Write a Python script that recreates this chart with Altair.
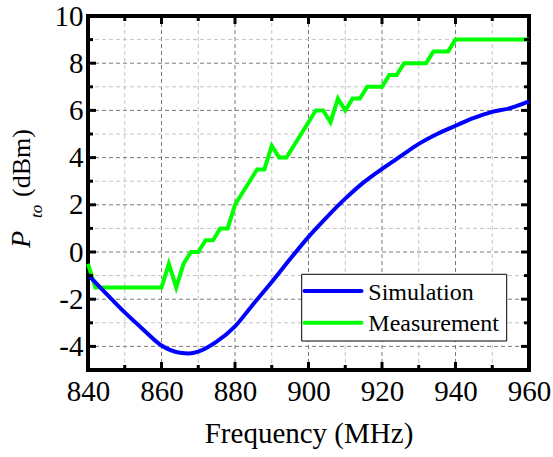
import altair as alt
import pandas as pd

# ---- data ----
sim_freq = [840, 845, 850, 855, 860, 865, 867.5, 870, 875, 880, 885, 890, 895,
            900, 905, 910, 915, 920, 925, 930, 935, 940, 945, 950, 955, 960]
sim_val = [-0.96, -1.77, -2.56, -3.28, -3.96, -4.27, -4.30, -4.22, -3.8, -3.15,
           -2.2, -1.27, -0.3, 0.64, 1.48, 2.26, 2.95, 3.52, 4.05, 4.58, 5.0,
           5.35, 5.68, 5.94, 6.1, 6.38]

meas_freq = [840, 842, 860, 862, 864, 866, 868, 870, 872, 874, 876, 878, 880,
             886, 888, 890, 892, 894, 902, 904, 906, 908, 910, 912, 914, 916,
             920, 922, 924, 926, 932, 934, 938, 940, 960]
meas_val = [-0.5, -1.5, -1.5, -0.5, -1.5, -0.5, 0, 0, 0.5, 0.5, 1, 1, 2,
            3.5, 3.5, 4.5, 4, 4, 6, 6, 5.5, 6.5, 6, 6.5, 6.5, 7,
            7, 7.5, 7.5, 8, 8, 8.5, 8.5, 9, 9]

series_names = ["Simulation", "Measurement"]
series_colors = ["#0000ff", "#00ff00"]

x_labels = [840, 860, 880, 900, 920, 940, 960]
y_labels = [-4, -2, 0, 2, 4, 6, 8, 10]
x_major_ticks = [860, 880, 900, 920, 940]
x_minor_ticks = [850, 870, 890, 910, 930, 950]
y_major_ticks = [-4, -2, 0, 2, 4, 6, 8]
y_minor_ticks = [-3, -1, 1, 3, 5, 7, 9]

x_title = "Frequency (MHz)"
y_title_parts = ["P", "to", "(dBm)"]

FONT = "Liberation Serif"
W, H = 441, 354
GRID_DARK = "#7a7a7a"
GRID_LIGHT = "#c4c4c4"

df = pd.concat([
    pd.DataFrame({"freq": sim_freq, "val": sim_val, "series": series_names[0]}),
    pd.DataFrame({"freq": meas_freq, "val": meas_val, "series": series_names[1]}),
])

xscale = alt.Scale(domain=[840, 960], nice=False, zero=False)
yscale = alt.Scale(domain=[-5, 10], nice=False, zero=False)

color = alt.Color(
    "series:N",
    scale=alt.Scale(domain=series_names, range=series_colors),
    legend=None,
)

xenc = alt.X(
    "freq:Q", scale=xscale,
    axis=alt.Axis(
        values=x_labels, title=x_title, ticks=False, domain=False, grid=False,
        labelFlush=False, labelOverlap=False,
        labelFont=FONT, labelFontSize=29, labelColor="black",
        titleFont=FONT, titleFontSize=29, titleFontWeight="normal", titleColor="black",
        labelPadding=7, titlePadding=13,
    ),
)
yenc = alt.Y(
    "val:Q", scale=yscale,
    axis=alt.Axis(
        values=y_labels, title=None, ticks=False, domain=False, grid=False,
        labelExpr="replace(datum.label, '\u2212', '-')",
        labelFlush=False, labelOverlap=False,
        labelFont=FONT, labelFontSize=29, labelColor="black",
        labelPadding=5,
    ),
)


# dashed grid (major darker, minor lighter)
def vgrid(vals, col):
    return alt.Chart(pd.DataFrame({"freq": vals})).mark_rule(
        color=col, strokeWidth=1, strokeDash=[4, 3]).encode(
        x=alt.X("freq:Q", scale=xscale), y=alt.value(0), y2=alt.value(H))


def hgrid(vals, col):
    return alt.Chart(pd.DataFrame({"val": vals})).mark_rule(
        color=col, strokeWidth=1, strokeDash=[4, 3]).encode(
        y=alt.Y("val:Q", scale=yscale), x=alt.value(0), x2=alt.value(W))


layers = [
    vgrid(x_minor_ticks, GRID_LIGHT), vgrid(x_major_ticks, GRID_DARK),
    hgrid(y_minor_ticks, GRID_LIGHT), hgrid(y_major_ticks, GRID_DARK),
]

meas = alt.Chart(df).transform_filter(
    alt.datum.series == series_names[1]
).mark_line(strokeWidth=4).encode(x=xenc, y=yenc, color=color)

sim = alt.Chart(df).transform_filter(
    alt.datum.series == series_names[0]
).mark_line(strokeWidth=4, interpolate="monotone").encode(
    x="freq:Q", y="val:Q", color="series:N")

layers += [meas, sim]


# inward ticks on all four sides
def xticks(vals, length, width):
    d = pd.DataFrame({"freq": vals})
    bottom = alt.Chart(d).mark_rule(color="black", strokeWidth=width).encode(
        x="freq:Q", y=alt.value(H + 2), y2=alt.value(H - length))
    top = alt.Chart(d).mark_rule(color="black", strokeWidth=width).encode(
        x="freq:Q", y=alt.value(-2), y2=alt.value(length))
    return [bottom, top]


def yticks(vals, length, width):
    d = pd.DataFrame({"val": vals})
    left = alt.Chart(d).mark_rule(color="black", strokeWidth=width).encode(
        y="val:Q", x=alt.value(-2), x2=alt.value(length))
    right = alt.Chart(d).mark_rule(color="black", strokeWidth=width).encode(
        y="val:Q", x=alt.value(W + 2), x2=alt.value(W - length))
    return [left, right]


layers += xticks(x_major_ticks, 8, 3) + xticks(x_minor_ticks, 5, 3)
layers += yticks(y_major_ticks, 8, 3) + yticks(y_minor_ticks, 5, 3)

# legend box drawn by hand
leg_box = alt.Chart(pd.DataFrame({"k": [0]})).mark_rect(
    fill="white", stroke="black", strokeWidth=1).encode(
    x=alt.value(213.7), x2=alt.value(418.7), y=alt.value(258.3), y2=alt.value(325))
layers.append(leg_box)
row_y = [275, 306.7]
for name, col, ry in zip(series_names, series_colors, row_y):
    layers.append(alt.Chart(pd.DataFrame({"k": [0]})).mark_rule(
        color=col, strokeWidth=4, strokeCap="round").encode(
        x=alt.value(216.5), x2=alt.value(273.5), y=alt.value(ry)))
    layers.append(alt.Chart(pd.DataFrame({"t": [name]})).mark_text(
        font=FONT, fontSize=24, align="left", baseline="middle", color="black").encode(
        text="t:N", x=alt.value(280.3), y=alt.value(ry + 1.5)))

# y-axis title: italic P with subscript "to", then (dBm)
tP = alt.Chart(pd.DataFrame({"t": [y_title_parts[0]]})).mark_text(
    font=FONT, fontSize=28, fontStyle="italic", angle=270, align="left",
    baseline="alphabetic", color="black").encode(
    text="t:N", x=alt.value(-58.5), y=alt.value(232))
tSub = alt.Chart(pd.DataFrame({"t": [y_title_parts[1]]})).mark_text(
    font=FONT, fontSize=17, fontStyle="italic", angle=270, align="left",
    baseline="alphabetic", color="black").encode(
    text="t:N", x=alt.value(-46.5), y=alt.value(202))
tUnit = alt.Chart(pd.DataFrame({"t": [y_title_parts[2]]})).mark_text(
    font=FONT, fontSize=26, angle=270, align="left",
    baseline="alphabetic", color="black").encode(
    text="t:N", x=alt.value(-58.5), y=alt.value(181))

layers += [tP, tSub, tUnit]

chart = alt.layer(*layers).properties(
    width=W, height=H,
    autosize=alt.AutoSizeParams(type="none"),
    padding={"left": 88, "top": 16, "right": 24, "bottom": 87},
    background="white",
).configure_view(
    stroke="black", strokeWidth=4
)

chart.save("out.html", embed_options={"renderer": "svg", "actions": False})
